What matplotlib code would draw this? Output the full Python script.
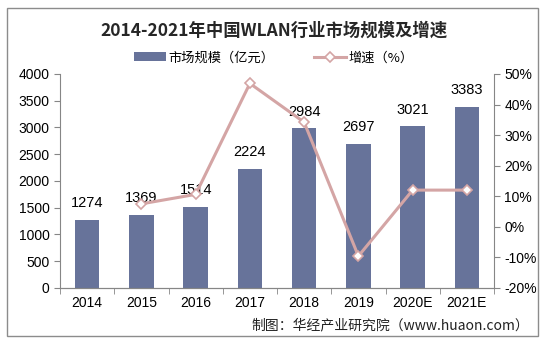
import matplotlib.pyplot as plt
import numpy as np
from matplotlib.patches import Rectangle

plt.rcParams['font.family'] = ['Noto Sans CJK SC', 'DejaVu Sans']

years = ["2014", "2015", "2016", "2017", "2018", "2019", "2020E", "2021E"]
market = [1274, 1369, 1514, 2224, 2984, 2697, 3021, 3383]
growth_years = ["2015", "2016", "2017", "2018", "2019", "2020E", "2021E"]
growth = [7.5, 10.6, 46.9, 34.2, -9.6, 12.0, 12.0]

bar_color = '#67739A'
line_color = '#D4A5A5'
axis_color = '#868686'
num_font = ['Liberation Sans', 'DejaVu Sans']

fig = plt.figure(figsize=(5.48, 3.44), dpi=100)
ax = fig.add_axes([0.1095, 0.163, 0.792, 0.622])

x = np.arange(len(years))
rects = ax.bar(x, market, 0.45, color=bar_color, label='市场规模（亿元）', zorder=2)
ax.bar_label(rects, padding=7, fontsize=10.5, family=num_font)
ax.set_ylim(0, 4000)
ax.set_yticks(np.arange(0, 4001, 500))
ax.set_xlim(-0.5, len(years) - 0.5)
ax.set_xticks(x, years)
ax.set_xticks(np.arange(-0.5, len(years), 1), minor=True)
ax.tick_params(axis='x', which='major', length=0, labelsize=10, pad=6)
ax.tick_params(axis='x', which='minor', length=4, color=axis_color)
ax.tick_params(axis='y', length=4, color=axis_color, labelsize=10)
for lbl in ax.get_xticklabels() + ax.get_yticklabels():
    lbl.set_family(num_font)

ax2 = ax.twinx()
gx = [years.index(y) for y in growth_years]
ax2.plot(gx, growth, color=line_color, lw=2.2, marker='D', ms=5.5,
         mfc='white', mec=line_color, mew=1.2, label='增速（%）', zorder=3)
ax2.set_ylim(-20, 50)
ax2.set_yticks(np.arange(-20, 51, 10))
ax2.set_yticklabels([f"{v}%" for v in range(-20, 51, 10)], family=num_font)
ax2.tick_params(axis='y', length=4, color=axis_color, labelsize=10)

for a in (ax, ax2):
    a.spines['top'].set_visible(False)
    for side in ('left', 'right', 'bottom'):
        a.spines[side].set_color(axis_color)
ax.spines['right'].set_visible(False)
ax2.spines['left'].set_visible(False)

fig.text(0.5, 0.91, '2014-2021年中国WLAN行业市场规模及增速', ha='center', va='center',
         fontsize=12.5, fontweight='bold', color='#262626')

h1, l1 = ax.get_legend_handles_labels()
h2, l2 = ax2.get_legend_handles_labels()
fig.legend(h1 + h2, l1 + l2, loc='center', bbox_to_anchor=(0.5, 0.832), ncol=2,
           frameon=False, fontsize=9.5, handlelength=2.4, columnspacing=3,
           handletextpad=0.2)

fig.text(0.965, 0.055, '制图：华经产业研究院（www.huaon.com）', ha='right', va='center',
         fontsize=10, color='#222222')

fig.patches.append(Rectangle((0.013, 0.023), 0.968, 0.953, transform=fig.transFigure,
                             fill=False, edgecolor='#8c8c8c', lw=1))

fig.savefig('out.png', dpi=100)
